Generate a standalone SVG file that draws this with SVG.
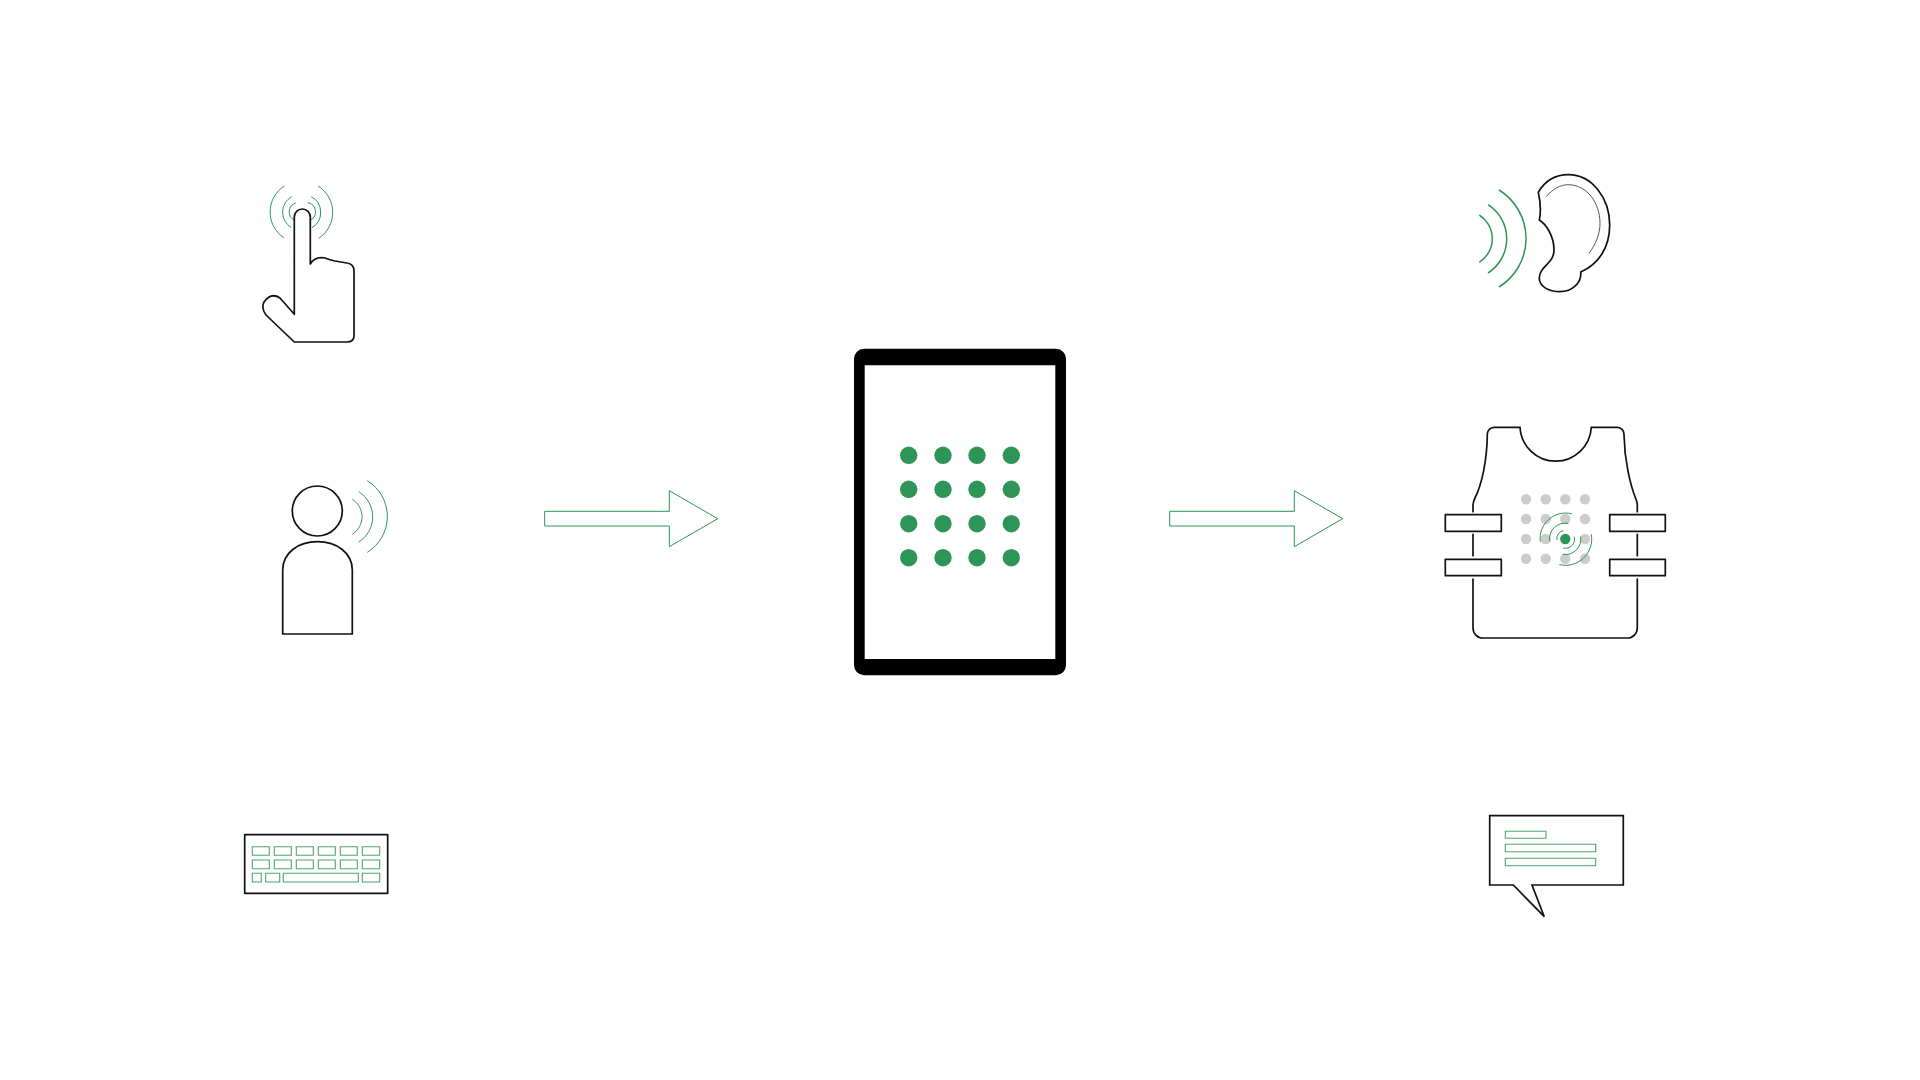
<svg xmlns="http://www.w3.org/2000/svg" width="1920" height="1080" viewBox="0 0 1920 1080">
<style>
.k{fill:#fff;stroke:#111;stroke-width:1.7;stroke-linejoin:round}
.n{fill:none;stroke:#111;stroke-width:1.7;stroke-linecap:round}
.t{fill:none;stroke:#555;stroke-width:1}
.g{fill:none;stroke:#2e9558;stroke-width:1}
.gs{fill:none;stroke:#2e9558;stroke-width:1.5}
.ga{fill:#fff;stroke:#2e9558;stroke-width:1}
.gk{fill:none;stroke:#2e9558;stroke-width:1.1;opacity:.85}
.d{fill:#2e9558}
.h{fill:#ccc}
</style>
<rect width="1920" height="1080" fill="#fff"/>
<g id="connectors">
<path class="ga" d="M544.7 511.3H669.3V490.7L717.7 518.7L669.3 546.7V526H544.7Z"/>
<path class="ga" d="M1169.700 511.3H1294.300V490.7L1342.700 518.7L1294.300 546.7V526H1169.700Z"/>
</g>
<g id="touch">
<path class="g" d="M284.3 186A31 31 0 0 0 283.7 237.7M318 186A31 31 0 0 1 318.7 238.3M291.7 196.7A17.800 17.800 0 0 0 291 227.3M311.3 196.7A17.800 17.800 0 0 1 312 227.7M295.7 203A9.300 9.300 0 0 0 294 220M307.7 202.700A9.300 9.300 0 0 1 310.7 220"/>
<path class="k" d="M294.3 314.3V217A8 8 0 0 1 310.3 217V264Q315 256 325 258Q330 260 335 261L347 263Q354 264 354 271V336Q354 342 347 342H294.3L266 315Q261 308 264 302Q271 292 280 298Z"/>
</g>
<g id="speaker">
<circle class="k" cx="317.3" cy="511" r="25"/>
<path class="k" d="M282.7 634V570C282.7 553 298 541.7 317.5 541.7S352.3 553 352.3 570V634Z"/>
<path class="g" d="M352.3 499.3A20.600 20.600 0 0 1 352.3 534.3M358.7 491.7A29.600 29.600 0 0 1 358.7 542M367.3 480.7A42 42 0 0 1 367.3 552.3"/>
</g>
<g id="keyboard">
<rect class="k" x="244.7" y="834.7" width="143" height="58.600"/>
<path class="gk" d="M252.300 846.700h17v8.600h-17zM274.300 846.700h17v8.600h-17zM296.300 846.700h17v8.600h-17zM318.300 846.700h17v8.600h-17zM340.300 846.700h17v8.600h-17zM362.300 846.700h17.400v8.600h-17.400zM252.300 860h17v8.700h-17zM274.300 860h17v8.700h-17zM296.300 860h17v8.700h-17zM318.300 860h17v8.700h-17zM340.300 860h17v8.700h-17zM362.300 860h17.400v8.700h-17.400zM252.300 873.300h9v8.700h-9zM265.700 873.300h14v8.700h-14zM283.300 873.300h75v8.700h-75zM362.300 873.300h17.400v8.700h-17.400z"/>
</g>
<g id="tablet">
<path fill="#000" fill-rule="evenodd" d="M864 348.700H1056A10 10 0 0 1 1066 358.700V665.300A10 10 0 0 1 1056 675.300H864A10 10 0 0 1 854 665.300V358.700A10 10 0 0 1 864 348.700ZM864.700 365.300V659H1055.300V365.300Z"/>
<g class="d">
<circle cx="908.700" cy="455.300" r="8.700"/><circle cx="943" cy="455.300" r="8.700"/><circle cx="977" cy="455.300" r="8.700"/><circle cx="1011.300" cy="455.300" r="8.700"/>
<circle cx="908.700" cy="489.300" r="8.700"/><circle cx="943" cy="489.300" r="8.700"/><circle cx="977" cy="489.300" r="8.700"/><circle cx="1011.300" cy="489.300" r="8.700"/>
<circle cx="908.700" cy="523.700" r="8.700"/><circle cx="943" cy="523.700" r="8.700"/><circle cx="977" cy="523.700" r="8.700"/><circle cx="1011.300" cy="523.700" r="8.700"/>
<circle cx="908.700" cy="557.700" r="8.700"/><circle cx="943" cy="557.700" r="8.700"/><circle cx="977" cy="557.700" r="8.700"/><circle cx="1011.300" cy="557.700" r="8.700"/>
</g>
</g>
<g id="ear">
<path class="gs" d="M1479.300 215A28 28 0 0 1 1479.300 262.300M1488 204.700A40.500 40.500 0 0 1 1488 273M1499 190A57 57 0 0 1 1499 287"/>
<path class="k" d="M1538.300 192.300C1545 181 1556 174.700 1568.300 174.700C1592 174.700 1609.700 198 1609.700 225C1609.700 247 1599 264 1580.700 272C1582 283 1572 291.700 1560 291.700C1548 291.700 1539.300 286 1539.300 278.300C1539.300 266 1554 264 1554 250C1554 236 1546 224 1539.300 220C1541.500 210 1540 200 1538.300 192.300Z"/>
<path class="t" d="M1546 196.700C1553 189 1560 184.700 1568.300 184.700C1587 184.700 1600 203 1600 223.300C1600 234 1596 244 1589 253.300"/>
</g>
<g id="vest">
<path class="n" d="M1473 511.700V505Q1473 502 1475 498C1482 484 1487 460 1487.300 435V434A7 7 0 0 1 1494 427.300H1520A35.700 35.700 0 0 0 1591.300 427.300H1617.500A7 7 0 0 1 1624 434V435C1624.500 460 1630 484 1635.500 498Q1637.300 502 1637.300 505V511.700M1473 534.300V555.700M1637.300 534.300V555.700M1473 579V628A10 10 0 0 0 1483 638H1627.300A10 10 0 0 0 1637.300 628V579"/>
<g class="k">
<rect x="1445.300" y="514.700" width="56" height="16.600"/><rect x="1445.300" y="559.300" width="56" height="16.400"/>
<rect x="1609.700" y="514.700" width="55.600" height="16.600"/><rect x="1609.700" y="559.300" width="55.600" height="16.400"/>
</g>
<g class="h">
<circle cx="1526" cy="499.300" r="5.200"/><circle cx="1545.700" cy="499.300" r="5.200"/><circle cx="1565.300" cy="499.300" r="5.200"/><circle cx="1585" cy="499.300" r="5.200"/>
<circle cx="1526" cy="519" r="5.200"/><circle cx="1545.700" cy="519" r="5.200"/><circle cx="1565.300" cy="519" r="5.200"/><circle cx="1585" cy="519" r="5.200"/>
<circle cx="1526" cy="539" r="5.200"/><circle cx="1545.700" cy="539" r="5.200"/><circle cx="1585" cy="539" r="5.200"/>
<circle cx="1526" cy="558.700" r="5.200"/><circle cx="1545.700" cy="558.700" r="5.200"/><circle cx="1565.300" cy="558.700" r="5.200"/><circle cx="1585" cy="558.700" r="5.200"/>
</g>
<circle class="d" cx="1565.300" cy="539" r="5.200"/>
<path class="g" d="M1540.300 541.700A25.500 25.500 0 0 1 1571.700 513.800M1549.700 541.500A15.800 15.800 0 0 1 1568.300 523.400M1556.800 540A8.600 8.600 0 0 1 1563.500 530.600M1591.300 534.300A26.300 26.300 0 0 1 1559.300 564.600M1580.700 536.700A15.600 15.600 0 0 1 1562.700 554.400M1574.300 536.700A9.300 9.300 0 0 1 1563.300 548.100"/>
</g>
<g id="speech">
<path class="k" style="stroke-linejoin:miter" d="M1489.700 815.700H1623.300V885H1532L1544.300 916.700L1513.300 885H1489.700Z"/>
<path class="gk" d="M1505.300 831.300h40.700v7h-40.700zM1505.300 844.300h90.400v7.400h-90.400zM1505.300 858.300h90.400v7.400h-90.400z"/>
</g>
</svg>
